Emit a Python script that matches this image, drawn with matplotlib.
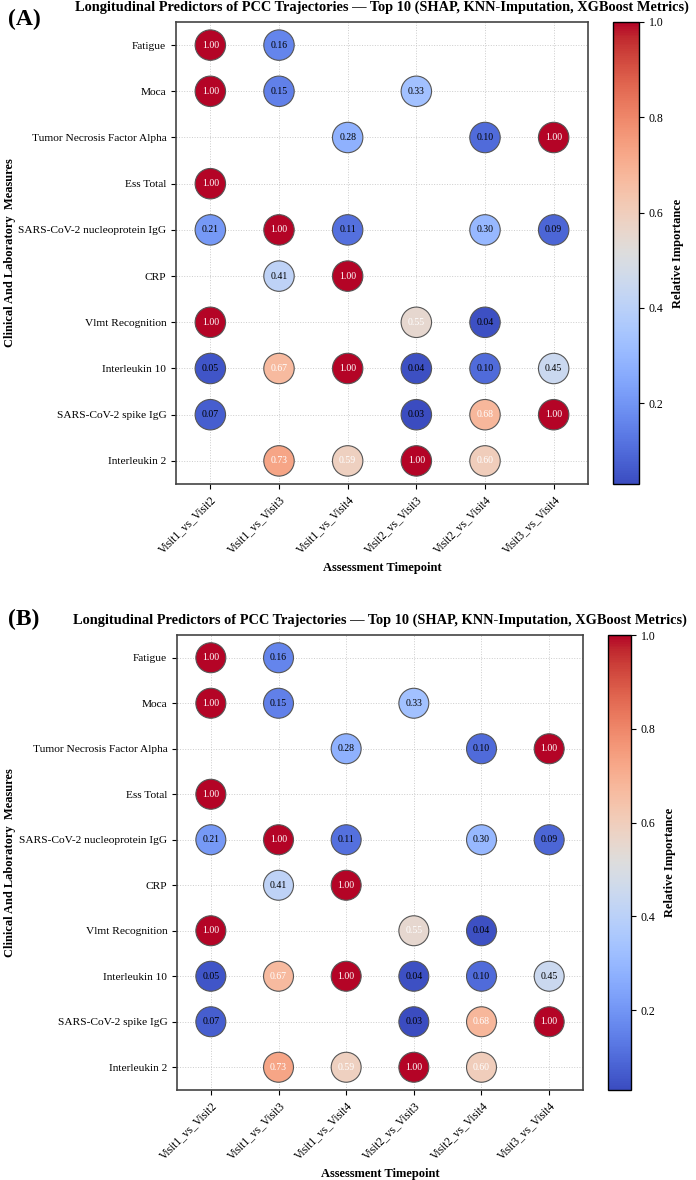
import numpy as np
import matplotlib
matplotlib.use("Agg")
import matplotlib.pyplot as plt

plt.rcParams["font.family"] = ["Liberation Serif", "DejaVu Serif"]

features = ["Fatigue", "Moca", "Tumor Necrosis Factor Alpha", "Ess Total",
            "SARS-CoV-2 nucleoprotein IgG", "CRP", "Vlmt Recognition",
            "Interleukin 10", "SARS-CoV-2 spike IgG", "Interleukin 2"]
timepoints = ["Visit1_vs_Visit2", "Visit1_vs_Visit3", "Visit1_vs_Visit4",
              "Visit2_vs_Visit3", "Visit2_vs_Visit4", "Visit3_vs_Visit4"]

nan = np.nan
importance = np.array([
    [1.00, 0.16, nan, nan, nan, nan],
    [1.00, 0.15, nan, 0.33, nan, nan],
    [nan, nan, 0.28, nan, 0.10, 1.00],
    [1.00, nan, nan, nan, nan, nan],
    [0.21, 1.00, 0.11, nan, 0.30, 0.09],
    [nan, 0.41, 1.00, nan, nan, nan],
    [1.00, nan, nan, 0.55, 0.04, nan],
    [0.05, 0.67, 1.00, 0.04, 0.10, 0.45],
    [0.07, nan, nan, 0.03, 0.68, 1.00],
    [nan, 0.73, 0.59, 1.00, 0.60, nan],
])

TITLE = ("Longitudinal Predictors of PCC Trajectories \u2014 Top 10 "
         "(SHAP, KNN-Imputation, XGBoost Metrics)")

W, H = 696, 1180
fig = plt.figure(figsize=(W / 100, H / 100), dpi=100)


def px_axes(x0, y0, x1, y1):
    return fig.add_axes([x0 / W, 1 - y1 / H, (x1 - x0) / W, (y1 - y0) / H])


def panel(ax, cax, size, x0, x1):
    rows, cols = np.where(~np.isnan(importance))
    vals = importance[rows, cols]
    vmin, vmax = np.nanmin(importance), np.nanmax(importance)
    sc = ax.scatter(cols, rows, c=vals, cmap="coolwarm", vmin=vmin, vmax=vmax,
                    s=size, edgecolors="#555555", linewidths=0.8, zorder=3)
    for r, c, v in zip(rows, cols, vals):
        ax.text(c, r, f"{v:.2f}", ha="center", va="center", fontsize=7,
                color="white" if v > 0.5 else "black", zorder=4)
    ax.set_xlim(-0.5, len(timepoints) - 0.5)
    ax.set_ylim(len(features) - 0.5, -0.5)
    ax.set_xticks(range(len(timepoints)))
    ax.set_xticklabels(timepoints, rotation=45, ha="right",
                       rotation_mode="anchor", fontsize=8.3)
    ax.set_yticks(range(len(features)))
    ax.set_yticklabels(features, fontsize=8.2)
    ax.grid(True, linestyle=":", color="#cccccc", linewidth=0.7, zorder=0)
    for sp in ax.spines.values():
        sp.set_color("#444444")
        sp.set_linewidth(1.2)
    ax.set_xlabel("Assessment Timepoint", fontsize=9, fontweight="bold")
    ax.set_ylabel("Clinical And Laboratory  Measures", fontsize=9,
                  fontweight="bold", va="center")
    ax.yaxis.set_label_coords((10 - x0) / (x1 - x0), 0.5)
    ax.set_title(TITLE, fontsize=10.4, fontweight="bold", pad=8)
    cb = fig.colorbar(sc, cax=cax)
    cb.set_ticks([0.2, 0.4, 0.6, 0.8, 1.0])
    cb.ax.tick_params(labelsize=8.5)
    cb.set_label("Relative Importance", fontsize=9, fontweight="bold",
                 labelpad=6)
    cb.outline.set_linewidth(1.0)
    return ax


axA = px_axes(176, 22, 588, 484)
caxA = px_axes(613, 22, 639, 484)
panel(axA, caxA, 480, 176, 588)
fig.text(8 / W, 1 - 19 / H, "(A)", fontsize=17, fontweight="bold",
         va="center", ha="left")

axB = px_axes(177, 635, 583, 1090)
caxB = px_axes(608, 635, 631, 1090)
panel(axB, caxB, 465, 177, 583)
fig.text(8 / W, 1 - 619 / H, "(B)", fontsize=17, fontweight="bold",
         va="center", ha="left")

fig.savefig("out.png", dpi=100, facecolor="white")
